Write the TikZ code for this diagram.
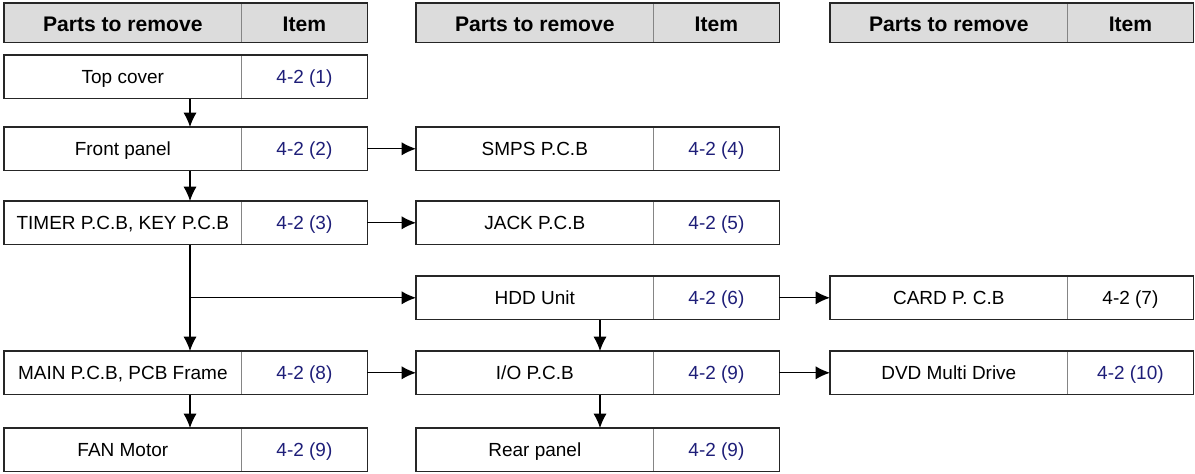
\documentclass[tikz,border=0pt]{standalone}
\usepackage{fontspec}
\setmainfont{Liberation Sans}
\usetikzlibrary{positioning,arrows.meta,calc}
\definecolor{itemblue}{HTML}{1E1E78}
\definecolor{hdrgray}{HTML}{DCDCDC}
\definecolor{divgray}{HTML}{858585}

\tikzset{
  part/.style={anchor=north west, minimum width=5.925cm, minimum height=1.075cm, inner sep=0pt, text height=10pt, text depth=0.5pt, font=\fontsize{13.5}{16}\selectfont},
  item/.style={anchor=west, minimum width=3.125cm, minimum height=1.075cm, inner sep=0pt, text height=10pt, text depth=0.5pt, font=\fontsize{13.5}{16}\selectfont, text=itemblue},
  head/.style={fill=hdrgray, minimum height=0.975cm, text height=13pt, text depth=0pt, text=black, font=\fontsize{15}{17}\selectfont\bfseries},
  boxline/.style={line width=1pt, draw=black!85},
  divline/.style={line width=0.6pt, divgray},
  arr/.style={-{Latex[length=0.36cm,width=0.33cm]}, line width=0.8pt}
}

\begin{document}
\begin{tikzpicture}[x=0.025cm, y=-0.025cm]
    \useasboundingbox (0,0) rectangle (1195,473);
    % headers
    \node[part, head] (hdA) at (4,3) {Parts to remove};
    \node[item, head, right=0pt of hdA] (hdAitem) {Item};
    \node[part, head] (hdB) at (416,3) {Parts to remove};
    \node[item, head, right=0pt of hdB] (hdBitem) {Item};
    \node[part, head] (hdC) at (830,3) {Parts to remove};
    \node[item, head, right=0pt of hdC] (hdCitem) {Item};
    % first column
    \node[part] (top) at (4,55) {Top cover};
    \node[item, right=0pt of top] (topitem) {4-2 (1)};
    \node[part] (front) at (4,127) {Front panel};
    \node[item, right=0pt of front] (frontitem) {4-2 (2)};
    \node[part] (timer) at (4,201) {TIMER P.C.B, KEY P.C.B};
    \node[item, right=0pt of timer] (timeritem) {4-2 (3)};
    \node[part] (main) at (4,351) {MAIN P.C.B, PCB Frame};
    \node[item, right=0pt of main] (mainitem) {4-2 (8)};
    \node[part] (fan) at (4,428) {FAN Motor};
    \node[item, right=0pt of fan] (fanitem) {4-2 (9)};
    % second column
    \node[part] (smps) at (416,127) {SMPS P.C.B};
    \node[item, right=0pt of smps] (smpsitem) {4-2 (4)};
    \node[part] (jack) at (416,201) {JACK P.C.B};
    \node[item, right=0pt of jack] (jackitem) {4-2 (5)};
    \node[part] (hdd) at (416,276) {HDD Unit};
    \node[item, right=0pt of hdd] (hdditem) {4-2 (6)};
    \node[part] (io) at (416,351) {I/O P.C.B};
    \node[item, right=0pt of io] (ioitem) {4-2 (9)};
    \node[part] (rear) at (416,428) {Rear panel};
    \node[item, right=0pt of rear] (rearitem) {4-2 (9)};
    % third column
    \node[part] (card) at (830,276) {CARD P. C.B};
    \node[item, text=black, right=0pt of card] (carditem) {4-2 (7)};
    \node[part] (dvd) at (830,351) {DVD Multi Drive};
    \node[item, right=0pt of dvd] (dvditem) {4-2 (10)};
    % box outlines
    \foreach \n in {hdA,hdB,hdC,top,front,timer,main,fan,smps,jack,hdd,io,rear,card,dvd} {
      \draw[divline] (\n item.north west) -- (\n item.south west);
      \draw[boxline] (\n.north west) rectangle (\n item.south east);
    }
    % arrows
    \coordinate (spineA) at (190,0);
    \coordinate (spineB) at (600,0);
    \draw[arr] (top.south -| spineA) -- (front.north -| spineA);
    \draw[arr] (front.south -| spineA) -- (timer.north -| spineA);
    \draw[arr] (timer.south -| spineA) -- (main.north -| spineA);
    \draw[arr] (hdd.west -| spineA) -- (hdd.west);
    \draw[arr] (main.south -| spineA) -- (fan.north -| spineA);
    \draw[arr] (frontitem.east) -- (smps.west);
    \draw[arr] (timeritem.east) -- (jack.west);
    \draw[arr] (mainitem.east) -- (io.west);
    \draw[arr] (hdditem.east) -- (card.west);
    \draw[arr] (ioitem.east) -- (dvd.west);
    \draw[arr] (hdd.south -| spineB) -- (io.north -| spineB);
    \draw[arr] (io.south -| spineB) -- (rear.north -| spineB);
\end{tikzpicture}
\end{document}
